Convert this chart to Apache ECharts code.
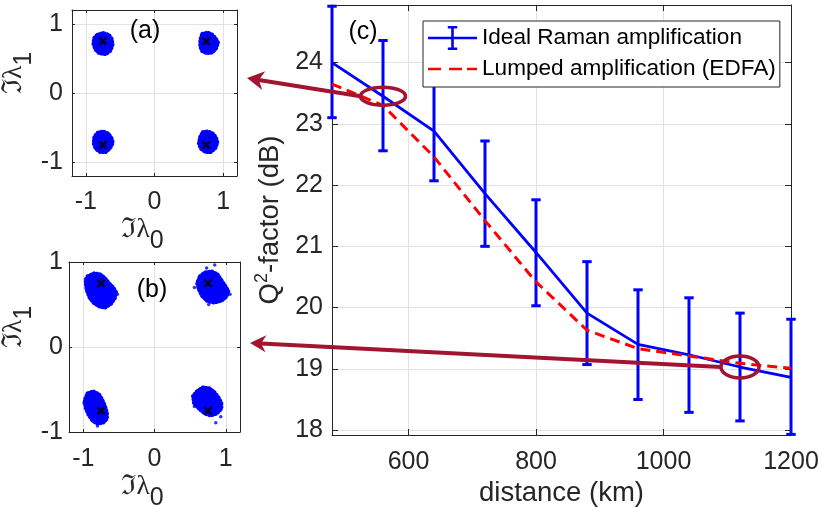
<!DOCTYPE html>
<html><head><meta charset="utf-8">
<script src="https://cdn.jsdelivr.net/npm/echarts@6/dist/echarts.min.js"></script>
<style>html,body{margin:0;padding:0;background:#fff}#c{width:822px;height:507px}</style>
</head><body><div id="c"></div>
<script>
// ---------------- data ----------------
const distances = [480, 560, 640, 720, 800, 880, 960, 1040, 1120, 1200];
const ramanQ    = [24.00, 23.45, 22.88, 21.86, 20.90, 19.91, 19.40, 19.23, 19.03, 18.86];
const ramanLow  = [23.10, 22.56, 22.07, 21.00, 20.03, 19.07, 18.50, 18.29, 18.15, 17.93];
const ramanHigh = [24.92, 24.36, 23.69, 22.72, 21.76, 20.75, 20.29, 20.16, 19.91, 19.81];
const edfaQ     = [23.65, 23.30, 22.46, 21.42, 20.42, 19.63, 19.33, 19.21, 19.09, 19.01];
const seriesNames = ['Ideal Raman amplification', 'Lumped amplification (EDFA)'];

const constellation = [[-0.75, 0.75], [0.75, 0.75], [-0.75, -0.75], [0.75, -0.75]];

// received-symbol clouds, outlines
const cloudA_TL = [[-0.836,0.845],[-0.749,0.874],[-0.661,0.845],[-0.618,0.787],[-0.604,0.700],[-0.633,0.613],[-0.706,0.555],[-0.807,0.570],[-0.866,0.628],[-0.895,0.714],[-0.880,0.801]];
const cloudA_TR = [[0.69,0.86],[0.77,0.88],[0.84,0.85],[0.89,0.80],[0.93,0.73],[0.90,0.64],[0.84,0.58],[0.76,0.57],[0.69,0.60],[0.66,0.67],[0.66,0.77]];
const cloudA_BL = [[-0.83,-0.57],[-0.75,-0.55],[-0.67,-0.58],[-0.62,-0.65],[-0.60,-0.72],[-0.64,-0.80],[-0.71,-0.86],[-0.79,-0.86],[-0.86,-0.81],[-0.89,-0.73],[-0.88,-0.63]];
const cloudA_BR = [[0.70,-0.56],[0.78,-0.55],[0.85,-0.58],[0.90,-0.64],[0.92,-0.72],[0.89,-0.80],[0.82,-0.86],[0.74,-0.86],[0.67,-0.81],[0.64,-0.73],[0.66,-0.63]];

const cloudB_TL = [[-0.944,0.835],[-0.845,0.871],[-0.761,0.859],[-0.690,0.812],[-0.634,0.753],[-0.577,0.706],[-0.535,0.647],[-0.549,0.576],[-0.606,0.506],[-0.690,0.459],[-0.775,0.471],[-0.859,0.518],[-0.915,0.576],[-0.958,0.671],[-0.972,0.765]];
const cloudB_TR = [[0.634,0.835],[0.704,0.882],[0.803,0.894],[0.887,0.859],[0.944,0.788],[1.000,0.718],[1.042,0.659],[1.014,0.588],[0.944,0.541],[0.831,0.518],[0.732,0.541],[0.662,0.600],[0.620,0.671],[0.592,0.753]];
const cloudB_BL = [[-0.944,-0.541],[-0.859,-0.518],[-0.775,-0.553],[-0.732,-0.612],[-0.690,-0.694],[-0.662,-0.776],[-0.662,-0.847],[-0.718,-0.894],[-0.803,-0.906],[-0.873,-0.871],[-0.930,-0.800],[-0.972,-0.718],[-0.986,-0.624]];
const cloudB_BR = [[0.592,-0.518],[0.676,-0.471],[0.775,-0.482],[0.845,-0.529],[0.901,-0.588],[0.944,-0.659],[0.944,-0.729],[0.873,-0.788],[0.789,-0.812],[0.704,-0.788],[0.620,-0.729],[0.549,-0.659],[0.535,-0.576]];
const strayB = [[0.845,0.965],[0.732,0.929],[0.56,0.70],[0.76,0.50],[1.06,0.62],[0.86,-0.89],[0.93,-0.82],[0.56,-0.70],[-0.97,0.80],[-0.52,0.62],[-0.80,-0.93],[-0.99,-0.66]];

// ---------------- style ----------------
const FONT = 'Liberation Sans, Arial, Helvetica, sans-serif';
const SERIF = 'Liberation Serif, DejaVu Serif, serif';
const AX = '#262626';
const GRIDC = '#e2e2e2';
const BLUE = '#0000ff', RED = '#ff0000', DARKRED = '#a2142f';

function axis(o) {
  return {
    type: 'value', gridIndex: o.g, position: o.pos, min: o.min, max: o.max,
    minInterval: o.step, maxInterval: o.step,
    axisLine: { show: true, onZero: false, lineStyle: { color: AX, width: 1 } },
    axisTick: { show: true, inside: true, length: o.tick, lineStyle: { color: AX, width: 1 } },
    axisLabel: { show: !!o.labels, margin: o.margin || 8, fontSize: 25, color: AX, fontFamily: FONT,
      showMinLabel: o.showMin, showMaxLabel: o.showMax, formatter: v => String(v) },
    splitLine: { show: !!o.labels, lineStyle: { color: GRIDC, width: 1 } },
    name: o.name, nameLocation: 'middle', nameGap: o.nameGap, nameRotate: o.nameRotate,
    nameTextStyle: o.nameStyle
  };
}

const lamRich = (horizontal) => ({
  rich: {
    m: { fontSize: 27.5, fontFamily: SERIF, color: AX },
    s: { fontSize: 25, fontFamily: FONT, color: AX, padding: [22, 0, 0, 0] }
  },
  padding: horizontal ? [0, 24, 0, 0] : [0, 0, 0, 40]
});

const xAxes = [
  axis({ g: 0, pos: 'bottom', min: -1.2, max: 1.2, step: 1, tick: 3, labels: true, margin: 14, showMin: false, showMax: false,
         name: '{m|ℑλ}{s|0}', nameGap: 17, nameStyle: lamRich(true) }),
  axis({ g: 0, pos: 'top', min: -1.2, max: 1.2, step: 1, tick: 3 }),
  axis({ g: 1, pos: 'bottom', min: -1.2, max: 1.2, step: 1, tick: 3, labels: true, margin: 15, showMin: false, showMax: false,
         name: '{m|ℑλ}{s|0}', nameGap: 13, nameStyle: lamRich(true) }),
  axis({ g: 1, pos: 'top', min: -1.2, max: 1.2, step: 1, tick: 3 }),
  axis({ g: 2, pos: 'bottom', min: 480, max: 1200, step: 200, tick: 6, labels: true, margin: 15, showMin: false, showMax: true,
         name: 'distance (km)', nameGap: 38, nameStyle: { fontSize: 27.5, color: AX, fontFamily: FONT } }),
  axis({ g: 2, pos: 'top', min: 480, max: 1200, step: 200, tick: 6 })
];
const yAxes = [
  axis({ g: 0, pos: 'left', min: -1.2, max: 1.2, step: 1, tick: 3, labels: true, margin: 9, showMin: false, showMax: false,
         name: '{m|ℑλ}{s|1}', nameGap: 6, nameRotate: 90, nameStyle: lamRich(false) }),
  axis({ g: 0, pos: 'right', min: -1.2, max: 1.2, step: 1, tick: 3 }),
  axis({ g: 1, pos: 'left', min: -1, max: 1, step: 1, tick: 3, labels: true, margin: 6, showMin: true, showMax: true,
         name: '{m|ℑλ}{s|1}', nameGap: 1, nameRotate: 90, nameStyle: lamRich(false) }),
  axis({ g: 1, pos: 'right', min: -1, max: 1, step: 1, tick: 3 }),
  axis({ g: 2, pos: 'left', min: 17.92, max: 24.94, step: 1, tick: 6, labels: true, margin: 9, showMin: false, showMax: false,
         name: '{q|Q}{s|2}{t|-factor (dB)}', nameGap: 44, nameRotate: 90,
         nameStyle: { rich: {
           q: { fontSize: 27.5, fontFamily: FONT, color: AX },
           s: { fontSize: 18, fontFamily: FONT, color: AX, padding: [0, 0, 16, 0] },
           t: { fontSize: 27.5, fontFamily: FONT, color: AX } } } }),
  axis({ g: 2, pos: 'right', min: 17.92, max: 24.94, step: 1, tick: 6 })
];

const cloudSeries = (ai, polys) => ({
  type: 'custom', xAxisIndex: ai, yAxisIndex: ai, silent: true, z: 3, clip: false,
  data: polys.map((p, i) => [p[0][0], p[0][1], i]),
  renderItem: (params, api) => ({
    type: 'polygon',
    shape: { points: polys[params.dataIndex].map(pt => api.coord(pt)) },
    style: { fill: BLUE, stroke: BLUE, lineWidth: 3.2, lineDash: [1, 2.4], lineCap: 'round', lineJoin: 'round' }
  })
});
const XMARK = 'path://M2,0L5,3L8,0L10,2L7,5L10,8L8,10L5,7L2,10L0,8L3,5L0,2Z';
const markSeries = (ai) => ({
  type: 'scatter', xAxisIndex: ai, yAxisIndex: ai, silent: true, z: 4,
  data: constellation, symbol: XMARK, symbolSize: 9, itemStyle: { color: '#000' }
});

const ICON_EB = 'path://M0,107H490V133H0Z M232,0H258V240H232Z M198,0H292V26H198Z M198,214H292V240H198Z';
const ICON_DASH = 'path://M0,0L1,0L1,0.01Z M0,240L1,240L1,239.99Z M0,107H130V133H0Z M210,107H340V133H210Z M390,107H490V133H390Z';

const option = {
  animation: false,
  backgroundColor: '#fff',
  textStyle: { fontFamily: FONT },
  grid: [
    { left: 72, top: 10, width: 165, height: 166, outerBoundsMode: 'none', containLabel: false },
    { left: 69, top: 262, width: 171, height: 170, outerBoundsMode: 'none', containLabel: false },
    { left: 332, top: 5, width: 459, height: 430, outerBoundsMode: 'none', containLabel: false }
  ],
  xAxis: xAxes,
  yAxis: yAxes,
  legend: {
    left: 423, top: 21, orient: 'vertical', itemWidth: 49, itemHeight: 24, itemGap: 7,
    padding: [5, 4, 6, 5], backgroundColor: '#fff', borderColor: AX, borderWidth: 1, borderRadius: 0,
    selectedMode: false, itemStyle: { borderWidth: 0 },
    textStyle: { fontSize: 22.6, color: '#000', fontFamily: FONT },
    data: [
      { name: seriesNames[0], icon: ICON_EB, itemStyle: { color: BLUE, borderWidth: 0 } },
      { name: seriesNames[1], icon: ICON_DASH, itemStyle: { color: RED, borderWidth: 0 } }
    ],
    z: 10
  },
  series: [
    cloudSeries(0, [cloudA_TL, cloudA_TR, cloudA_BL, cloudA_BR]),
    markSeries(0),
    cloudSeries(2, [cloudB_TL, cloudB_TR, cloudB_BL, cloudB_BR]),
    { type: 'scatter', xAxisIndex: 2, yAxisIndex: 2, silent: true, z: 3, data: strayB,
      symbol: 'circle', symbolSize: 3.5, itemStyle: { color: BLUE } },
    markSeries(2),
    {
      name: seriesNames[0], type: 'line', xAxisIndex: 4, yAxisIndex: 4, z: 3,
      data: distances.map((d, i) => [d, ramanQ[i]]), symbol: 'none',
      lineStyle: { color: BLUE, width: 2.8 }, itemStyle: { color: BLUE }
    },
    {
      type: 'custom', xAxisIndex: 4, yAxisIndex: 4, z: 3, clip: false,
      data: distances.map((d, i) => [d, ramanLow[i], ramanHigh[i]]),
      encode: { x: 0, y: [1, 2] },
      renderItem: (params, api) => {
        const x = api.value(0);
        const lo = api.coord([x, api.value(1)]);
        const hi = api.coord([x, api.value(2)]);
        const c = 4.7;
        const st = { stroke: BLUE, lineWidth: 3, fill: null };
        return { type: 'group', children: [
          { type: 'line', shape: { x1: lo[0], y1: lo[1], x2: hi[0], y2: hi[1] }, style: st },
          { type: 'line', shape: { x1: lo[0] - c, y1: lo[1], x2: lo[0] + c, y2: lo[1] }, style: st },
          { type: 'line', shape: { x1: hi[0] - c, y1: hi[1], x2: hi[0] + c, y2: hi[1] }, style: st }
        ] };
      }
    },
    {
      name: seriesNames[1], type: 'line', xAxisIndex: 4, yAxisIndex: 4, z: 3,
      data: distances.map((d, i) => [d, edfaQ[i]]), symbol: 'none',
      lineStyle: { color: RED, width: 3, type: [10, 6] }, itemStyle: { color: RED }
    }
  ]
};

const chart = echarts.init(document.getElementById('c'), null, { renderer: 'canvas' });
chart.setOption(option);

// ---------------- annotations ----------------
const annotations = [
  { index: 1, tip: [247, 78], rx: 22.5, ry: 9, head: 17, half: 9.5 },
  { index: 8, tip: [250, 343], rx: 19, ry: 11, head: 16, half: 8.5 }
];
const gfx = [];
annotations.forEach(a => {
  const c = chart.convertToPixel({ xAxisIndex: 4, yAxisIndex: 4 }, [distances[a.index], ramanQ[a.index]]);
  const start = [c[0] - a.rx, c[1]];
  const dx = a.tip[0] - start[0], dy = a.tip[1] - start[1];
  const len = Math.hypot(dx, dy), ux = dx / len, uy = dy / len, nx = -uy, ny = ux;
  const back = [a.tip[0] - ux * a.head, a.tip[1] - uy * a.head];
  const notch = [a.tip[0] - ux * (a.head - 5), a.tip[1] - uy * (a.head - 5)];
  gfx.push({ type: 'line', z: 100, shape: { x1: start[0], y1: start[1], x2: notch[0], y2: notch[1] },
             style: { stroke: DARKRED, lineWidth: 4 } });
  gfx.push({ type: 'polygon', z: 100, shape: { points: [a.tip, [back[0] + nx * a.half, back[1] + ny * a.half], notch,
             [back[0] - nx * a.half, back[1] - ny * a.half]] }, style: { fill: DARKRED } });
  gfx.push({ type: 'ellipse', z: 101, shape: { cx: c[0], cy: c[1], rx: a.rx, ry: a.ry },
             style: { fill: null, stroke: DARKRED, lineWidth: 3.5 } });
});
const panelLabels = [['(a)', 145, 31], ['(b)', 152, 290], ['(c)', 363, 32]];
panelLabels.forEach(p => gfx.push({ type: 'text', z: 100, x: p[1], y: p[2],
  style: { text: p[0], fontSize: 25, fontFamily: FONT, fill: '#000', align: 'center', verticalAlign: 'middle' } }));
chart.setOption({ graphic: { elements: gfx } });
</script>
</body></html>
